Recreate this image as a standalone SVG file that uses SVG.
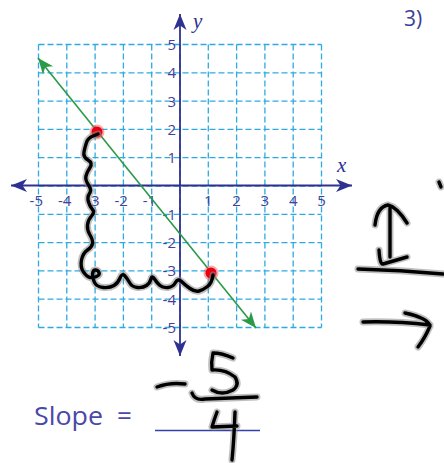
<svg xmlns="http://www.w3.org/2000/svg" width="444" height="463" viewBox="0 0 444 463">
<defs>
<style>
.grid{stroke:#2eaae3;stroke-width:1.3;stroke-dasharray:6 3;fill:none}
.axis{stroke:#2e3192;stroke-width:1.8;fill:none}
.lbl{font-family:"Open Sans","Liberation Sans",sans-serif;font-size:15px;fill:#463f98}
.ink{fill:none;stroke-linecap:round;stroke-linejoin:round}
.halo{stroke:#8a8a8a;stroke-width:7;stroke-opacity:0.55}
.core{stroke:#000;stroke-width:3.4}
.big{font-family:"Open Sans","Liberation Sans",sans-serif;font-size:26px;fill:#4a48a8}
</style>
<marker id="axArrow" markerUnits="userSpaceOnUse" markerWidth="20" markerHeight="16" viewBox="-17 -8 18 16" refX="0" refY="0" orient="auto-start-reverse">
<path d="M0,0 L-16,-6.5 L-11.5,0 L-16,6.5 Z" fill="#2e3192"/>
</marker>
<marker id="grArrow" markerUnits="userSpaceOnUse" markerWidth="20" markerHeight="16" viewBox="-17 -8 18 16" refX="0" refY="0" orient="auto-start-reverse">
<path d="M0,0 L-16,-6.5 L-11.5,0 L-16,6.5 Z" fill="#2a9a48"/>
</marker>
<path id="squig" d="M98,134 L93,136 Q88,138 86.5,142.5 Q85,147 84,152 Q83,157 88,160 Q93,163 90,167.5 Q87,172 86,176 Q85,180 88.5,185 Q92,190 89.5,193.5 Q87,197 88.5,202 Q90,207 92.5,209.5 Q95,212 91.5,216 Q88,220 87.5,225 Q87,230 90,235 Q93,240 92.5,243.5 Q92,247 87.5,250 Q83,253 81.5,260 Q80,267 83.5,272 Q87,277 90,277.5 Q93,278 96.5,276.5 Q100,275 99,272.5 Q98,270 95.5,270 Q93,270 92.5,274 Q92,278 94.5,282.5 Q97,287 103.5,287.5 Q110,288 114,285.5 Q118,283 120,278 Q122,273 124.5,275.5 Q127,278 129.5,282.5 Q132,287 137.5,287.5 Q143,288 146.5,285.5 Q150,283 151,279 Q152,275 154.5,279 Q157,283 160,285.5 Q163,288 168,287.5 Q173,287 175.5,282.5 Q178,278 181.5,281.5 Q185,285 190,288.5 Q195,292 199,291 Q203,290 207.5,286.5 Q212,283 213,275"/>
<path id="rise" d="M375,225 Q377,207 388,205 Q397,207 407,223 M390,207 L390,257 M379,250 Q380,265 383,264 L407,257 M358,269 Q400,270 443,274"/>
<path id="run" d="M363,322 Q395,321 430,325 M405,313 Q428,318 430,326 Q425,338 418,347"/>
<path id="frac" d="M157,387 Q170,382 185,384 M233,358 Q222,353 213,353 Q211,362 212,370 Q225,369 235,377 Q240,385 233,390 Q222,396 212,390 M192,393 Q195,401 205,399 L257,397 M217,412 Q214,420 212,427 L237,426 M235,412 Q234,440 232,460"/>
<path id="tick" d="M439,182 L441,187"/>
</defs>
<rect width="444" height="463" fill="#fff"/>

<g id="grid">
<path class="grid" d="M38.5,44.5V327.5M66.8,44.5V327.5M95.1,44.5V327.5M123.4,44.5V327.5M151.7,44.5V327.5M180,44.5V327.5M208.3,44.5V327.5M236.6,44.5V327.5M264.9,44.5V327.5M293.2,44.5V327.5M321.5,44.5V327.5"/>
<path class="grid" d="M38.5,44.5H321.5M38.5,72.8H321.5M38.5,101.1H321.5M38.5,129.4H321.5M38.5,157.7H321.5M38.5,186H321.5M38.5,214.3H321.5M38.5,242.6H321.5M38.5,270.9H321.5M38.5,299.2H321.5M38.5,327.5H321.5"/>
</g>

<g id="axes">
<line class="axis" x1="11" y1="185.5" x2="352" y2="185.5" marker-start="url(#axArrow)" marker-end="url(#axArrow)"/>
<line class="axis" x1="180" y1="14" x2="180" y2="356" marker-start="url(#axArrow)" marker-end="url(#axArrow)"/>
<text x="337" y="172" font-family="'Liberation Serif',serif" font-style="italic" font-size="21" fill="#2e3192">x</text>
<text x="193" y="28" font-family="'Liberation Serif',serif" font-style="italic" font-size="21" fill="#2e3192">y</text>
</g>

<g id="xlabels" class="lbl">
<text x="43" y="205.5" text-anchor="end">-5</text>
<text x="71.3" y="205.5" text-anchor="end">-4</text>
<text x="99.6" y="205.5" text-anchor="end">-3</text>
<text x="127.9" y="205.5" text-anchor="end">-2</text>
<text x="156.2" y="205.5" text-anchor="end">-1</text>
<text x="208.3" y="205.5" text-anchor="middle">1</text>
<text x="236.6" y="205.5" text-anchor="middle">2</text>
<text x="264.9" y="205.5" text-anchor="middle">3</text>
<text x="293.2" y="205.5" text-anchor="middle">4</text>
<text x="321.5" y="205.5" text-anchor="middle">5</text>
</g>
<g id="ylabels" class="lbl" text-anchor="end">
<text x="176" y="50">5</text>
<text x="176" y="78.3">4</text>
<text x="176" y="106.6">3</text>
<text x="176" y="134.9">2</text>
<text x="176" y="163.2">1</text>
<text x="176" y="219.8">-1</text>
<text x="176" y="248.1">-2</text>
<text x="176" y="276.4">-3</text>
<text x="176" y="304.7">-4</text>
<text x="176" y="333">-5</text>
</g>

<g id="line">
<line x1="38" y1="58" x2="256" y2="328" stroke="#2a9a48" stroke-width="1.6" marker-start="url(#grArrow)" marker-end="url(#grArrow)"/>
</g>

<g id="points">
<circle cx="97" cy="132" r="7.5" fill="#ff4040" fill-opacity="0.45"/>
<circle cx="97" cy="132" r="5.5" fill="#e80010"/>
<circle cx="211" cy="273" r="7.5" fill="#ff4040" fill-opacity="0.45"/>
<circle cx="211" cy="273" r="5.5" fill="#e80010"/>
</g>

<g id="ink">
<use href="#squig" class="ink halo"/><use href="#squig" class="ink core"/>
<use href="#rise" class="ink halo"/><use href="#rise" class="ink core"/>
<use href="#run" class="ink halo"/><use href="#run" class="ink core"/>
<use href="#tick" class="ink halo"/><use href="#tick" class="ink core"/>
</g>

<g id="label3">
<text x="404" y="26" font-family="'Open Sans','Liberation Sans',sans-serif" font-size="21" fill="#3b3f99">3)</text>
</g>

<g id="slope">
<text x="34" y="425" class="big" textLength="69" lengthAdjust="spacingAndGlyphs">Slope</text>
<text x="117" y="425" class="big">=</text>
<line x1="155" y1="430.5" x2="260" y2="430.5" stroke="#3440a8" stroke-width="1.5"/>
<use href="#frac" class="ink halo"/><use href="#frac" class="ink core"/>
</g>
</svg>
